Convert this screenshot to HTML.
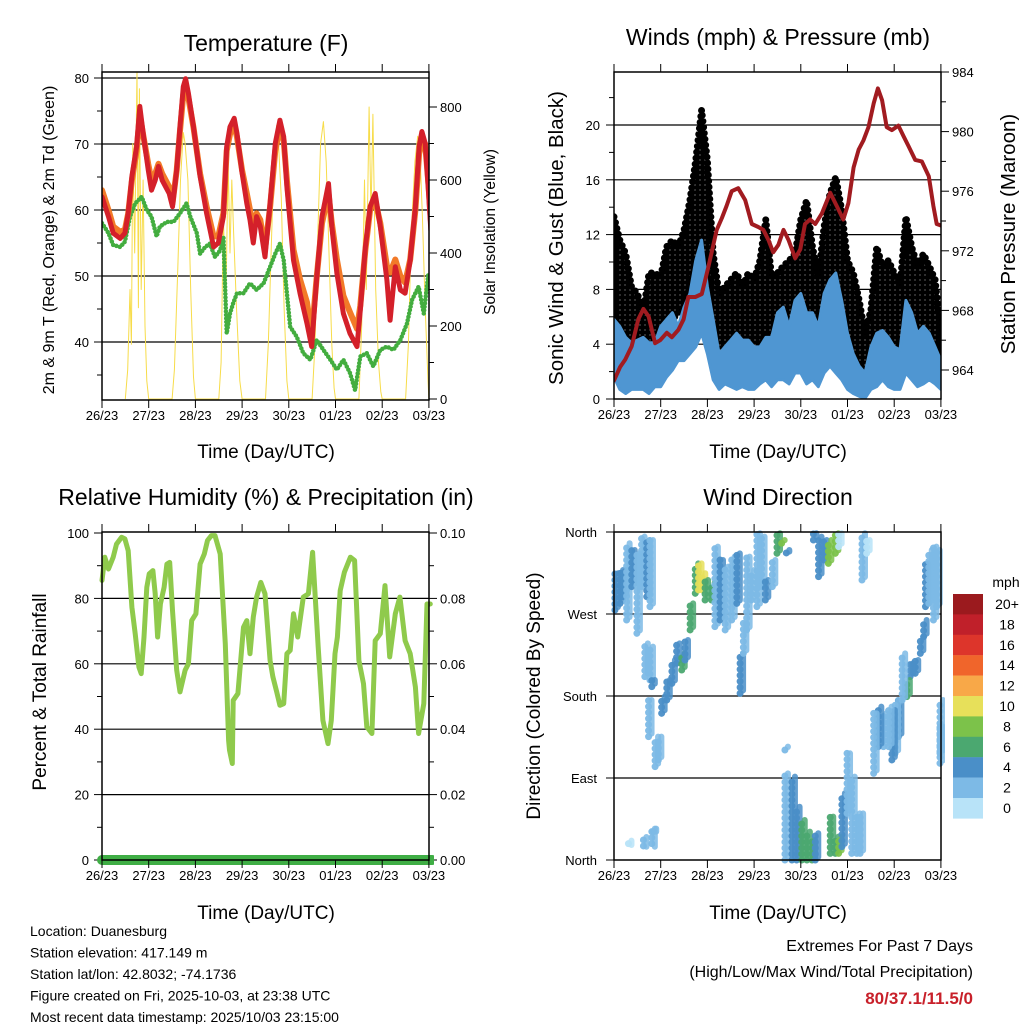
<!DOCTYPE html>
<html><head><meta charset="utf-8"><style>
html,body{margin:0;padding:0;background:#fff;}
svg{display:block;font-family:"Liberation Sans",Arial,sans-serif;}
</style></head><body>
<svg id="chart" width="1024" height="1024" viewBox="0 0 1024 1024" xmlns="http://www.w3.org/2000/svg">
<defs>
<clipPath id="c1"><rect x="102" y="72" width="327" height="328"/></clipPath>
<clipPath id="c2"><rect x="614" y="72" width="327" height="327"/></clipPath>
<clipPath id="c3"><rect x="97" y="532" width="337" height="334"/></clipPath>
<clipPath id="c4"><rect x="610" y="528" width="335" height="336"/></clipPath>
<pattern id="dotpat" width="5" height="5" patternUnits="userSpaceOnUse"><rect width="5" height="5" fill="#fff"/><circle cx="2.5" cy="2.5" r="3.1" fill="#000"/></pattern>
</defs>
<rect width="1024" height="1024" fill="#fff"/>
<g id="layer"></g>
</svg>
<script>
// ---------- Temperature panel data ----------
const tempTimes=[0.00,0.14,0.24,0.39,0.49,0.56,0.64,0.74,0.81,0.89,0.99,1.06,1.14,1.21,1.29,1.44,1.51,1.60,1.67,1.74,1.79,1.85,1.96,2.10,2.24,2.39,2.49,2.60,2.67,2.74,2.83,2.89,3.00,3.10,3.17,3.24,3.31,3.39,3.49,3.60,3.71,3.81,3.89,3.96,4.10,4.24,4.39,4.49,4.60,4.71,4.85,4.92,5.03,5.17,5.31,5.46,5.53,5.64,5.74,5.85,5.96,6.10,6.17,6.28,6.39,6.49,6.60,6.71,6.79,6.85,6.92,6.99,7.04];
const temp2m=[62.0,59.0,56.5,55.7,56.5,59.5,65.1,69.6,75.7,71.1,66.1,63.0,64.5,66.6,64.5,62.5,60.5,66.1,72.6,78.7,79.9,77.7,72.6,65.1,59.5,54.4,55.0,59.0,69.6,72.6,73.9,71.6,65.6,61.0,58.5,55.0,59.0,57.5,52.9,61.0,70.1,73.6,71.1,63.5,52.4,47.4,42.8,39.3,49.9,59.0,64.0,57.5,50.4,44.3,41.3,39.3,44.8,54.4,60.5,62.5,57.5,49.4,43.3,51.4,47.9,47.4,52.4,60.5,69.6,71.9,70.1,63.0,57.0];
const temp9m=[63.0,60.0,57.5,56.7,57.0,59.5,64.5,69.0,74.5,71.0,67.0,64.5,65.5,67.0,65.5,63.5,61.0,66.0,72.0,77.5,79.0,77.0,72.5,65.5,60.5,56.0,56.0,59.5,69.0,71.5,73.0,71.0,66.0,62.5,60.0,57.0,59.5,58.5,54.0,60.5,69.0,72.5,70.5,64.5,54.0,49.5,46.0,41.0,50.0,58.0,62.5,58.0,52.5,47.0,44.5,42.0,45.5,54.0,60.0,61.5,58.0,51.5,50.5,52.5,50.0,49.0,52.5,60.0,68.5,70.5,70.0,64.0,58.5];
const dewTimes=[0,0.14,0.24,0.39,0.49,0.6,0.71,0.85,0.96,1.06,1.17,1.24,1.39,1.53,1.67,1.81,1.89,2.03,2.1,2.21,2.31,2.42,2.53,2.6,2.67,2.74,2.81,2.89,3.03,3.17,3.31,3.46,3.6,3.71,3.81,3.89,3.96,4.03,4.17,4.31,4.46,4.6,4.74,4.89,5.03,5.17,5.31,5.42,5.53,5.67,5.81,5.96,6.1,6.24,6.39,6.53,6.64,6.78,6.89,6.99];
const dewValues=[58.0,56.5,54.7,54.4,55.2,59.0,61.0,62.0,60.0,59.0,56.0,57.5,58.2,58.2,59.5,61.0,59.0,56.5,53.4,54.4,54.9,52.9,53.9,56.0,41.3,44.3,45.9,47.4,47.4,48.9,47.9,48.9,51.4,53.4,54.9,52.4,47.4,42.3,40.8,38.3,37.3,40.3,38.8,37.3,35.8,37.3,35.3,32.7,37.8,38.3,36.3,38.8,39.3,38.8,40.3,42.8,46.4,48.4,44.3,50.4];
const solarTimes=[0.5,0.55,0.6,0.63,0.66,0.7,0.75,0.78,0.8,0.84,0.88,0.92,0.96,1.0,1.5,1.55,1.62,1.68,1.74,1.78,1.84,1.9,1.96,2.0,2.5,2.55,2.6,2.65,2.7,2.74,2.78,2.82,2.88,2.95,3.0,3.5,3.56,3.62,3.68,3.74,3.78,3.84,3.9,3.96,4.0,4.5,4.56,4.62,4.68,4.74,4.8,4.86,4.92,4.97,5.0,5.5,5.56,5.62,5.66,5.72,5.76,5.8,5.86,5.92,5.97,6.0,6.5,6.56,6.62,6.7,6.76,6.8,6.86,6.92,6.98,7.0];
const solarValues=[0,80,300,150,700,400,900,250,850,300,600,200,50,0,0,80,350,600,730,700,600,300,60,0,0,100,500,250,650,400,600,450,250,50,0,0,150,400,650,750,700,550,250,50,0,0,150,450,700,760,650,400,150,30,0,0,200,600,300,800,500,780,300,100,20,0,0,150,450,650,720,700,500,250,50,0];
const tempTicks=[40,50,60,70,80];
const solarTicks=[0,200,400,600,800];
const dayLabels=["26/23","27/23","28/23","29/23","30/23","01/23","02/23","03/23"];

// ---------- Wind panel data ----------
const gustHigh=[13.3,11.6,10.6,8.2,7.7,6.3,9.2,9.2,8.9,11.1,11.6,11.1,12.3,14.5,17.4,21.1,17.4,10.6,7.7,8.2,8.7,9.2,8.2,9.2,8.7,10.1,13.1,8.9,9.2,9.7,10.1,10.6,13.1,14.5,11.1,8.9,12.6,15.0,16.2,13.8,10.1,9.2,7.2,4.8,6.5,11.1,9.7,10.1,9.2,8.2,13.3,11.1,9.7,10.6,9.7,8.7,4.8];
const gustLow=[6.5,3.8,3.3,2.8,3.3,3.3,3.8,3.8,4.8,5.3,5.8,6.3,6.7,8.2,10.1,10.6,9.7,3.8,3.3,3.3,3.8,3.8,3.6,3.8,3.6,3.6,4.8,3.8,3.8,3.8,4.3,4.8,6.3,5.8,4.5,4.3,6.3,7.7,7.2,5.3,3.8,2.8,2.4,1.9,2.8,4.3,4.8,3.8,3.3,3.3,5.8,4.3,3.8,4.3,4.3,3.8,2.4];
const sonicHigh=[5.8,5.3,4.5,4.1,4.3,4.5,4.1,4.1,5.3,5.8,6.3,5.3,6.7,7.7,10.1,11.6,8.2,5.8,3.3,3.8,4.3,4.8,4.3,4.3,3.8,3.8,4.5,4.5,6.3,6.7,5.3,7.2,7.7,6.3,6.3,5.3,7.7,8.7,9.2,7.2,4.8,3.3,2.4,1.9,3.8,4.8,5.0,4.5,3.8,3.6,7.2,6.3,4.8,5.3,4.8,3.8,2.8];
const sonicLow=[1.6,0.7,0.4,0.7,0.7,0.7,0.4,0.9,0.9,1.6,2.1,2.8,2.8,3.3,3.8,4.8,3.3,1.4,0.7,1.1,0.9,0.7,0.9,0.7,0.7,1.1,1.4,0.9,1.4,1.4,1.1,1.9,1.9,1.1,1.4,0.9,1.9,2.4,1.9,1.4,0.7,0.4,0.2,0.05,0.7,0.9,1.4,0.9,0.7,0.7,1.9,1.4,0.9,1.1,1.4,1.1,0.7];
const pressTimes=[0,0.13,0.24,0.38,0.52,0.63,0.74,0.88,0.99,1.13,1.24,1.38,1.49,1.59,1.74,1.88,2.02,2.2,2.31,2.41,2.52,2.66,2.81,2.95,3.09,3.2,3.31,3.41,3.52,3.63,3.74,3.88,3.99,4.09,4.2,4.31,4.45,4.63,4.77,4.91,5.02,5.13,5.24,5.34,5.45,5.56,5.65,5.74,5.84,5.95,6.09,6.2,6.31,6.45,6.59,6.74,6.84,6.91,7.0];
const pressValues=[963.3,964.2,964.7,965.6,967.4,968.1,967.6,965.8,966.0,966.5,966.2,966.7,967.4,968.9,968.9,969.1,970.9,973.4,974.2,975.0,976.0,976.2,975.4,973.8,973.6,973.4,972.7,971.9,972.4,973.4,972.7,971.5,972.1,973.8,974.1,973.8,974.5,975.9,975.0,974.1,975.2,977.6,978.8,979.4,980.3,981.9,982.9,982.1,980.3,980.1,980.4,979.7,979.0,978.1,978.0,977.0,975.0,973.8,973.7];
const windTicks=[0,4,8,12,16,20];
const pressTicks=[964,968,972,976,980,984];

// ---------- RH panel data ----------
const rhTimes=[0,0.06,0.14,0.24,0.31,0.42,0.49,0.56,0.64,0.71,0.79,0.84,0.9,0.96,1.01,1.09,1.14,1.19,1.25,1.33,1.39,1.45,1.51,1.6,1.67,1.78,1.85,1.92,2.01,2.1,2.19,2.26,2.34,2.42,2.53,2.64,2.71,2.73,2.79,2.81,2.91,3.03,3.1,3.17,3.24,3.31,3.4,3.49,3.6,3.66,3.74,3.81,3.89,3.96,4.03,4.1,4.19,4.31,4.42,4.51,4.63,4.73,4.84,4.91,4.99,5.04,5.1,5.19,5.32,5.41,5.5,5.6,5.67,5.78,5.85,5.96,6.06,6.16,6.28,6.38,6.49,6.6,6.71,6.78,6.89,6.96,7.03];
const rhValues=[85.5,92.6,89.0,92.6,96.6,98.7,98.2,94.6,77.3,69.2,59.0,57.0,68.2,83.4,87.5,88.5,81.4,68.2,78.3,83.4,90.5,91.0,76.3,58.0,51.4,58.0,60.0,73.2,75.3,90.5,93.6,97.7,99.2,99.2,93.6,66.1,36.6,33.6,29.5,48.8,50.9,71.2,73.2,63.1,74.3,80.4,84.9,81.4,61.0,56.0,51.4,47.3,47.8,63.1,64.1,75.3,68.2,80.4,81.4,94.1,65.1,42.7,35.6,42.7,63.1,68.2,82.4,88.0,92.6,91.6,61.0,53.9,40.7,38.7,67.1,69.2,83.9,62.1,75.3,80.4,67.1,63.1,52.9,38.7,47.8,78.3,78.3];
const precipTimes=[0,7.07];
const precipValues=[0,0];
const rhTicks=[0,20,40,60,80,100];
const precipTickLabels=["0.00","0.02","0.04","0.06","0.08","0.10"];

// ---------- Wind direction data (time, dir from, dir to, speed mph) ----------
const dirTimes=[0.02,0.13,0.2,0.27,0.38,0.49,0.59,0.7,0.77,0.66,0.77,0.81,0.74,0.88,0.95,0.84,1.02,1.13,1.24,1.34,1.45,1.52,1.63,1.74,1.81,1.89,1.95,2.09,2.16,2.27,2.38,2.52,2.63,2.7,2.77,2.84,2.94,3.06,3.16,3.24,3.39,3.49,3.59,3.69,4.27,4.38,4.49,4.59,4.74,4.81,5.31,5.41,6.67,6.74,6.84,6.91,6.63,6.56,6.45,6.34,6.27,6.09,6.02,5.95,5.88,5.77,5.66,5.56,6.17,6.98,6.98,3.66,3.66,3.81,3.91,4.02,4.13,4.24,4.31,4.63,4.74,4.81,4.88,4.99,5.09,5.2,5.27,0.31,0.63,0.81];
const dirFrom=[274.4,281.7,289.0,263.4,300.0,248.8,300.0,289.0,278.1,201.2,197.6,190.3,135.4,102.5,109.8,31.1,161.0,175.6,193.9,215.9,208.5,219.5,252.5,292.7,296.4,296.4,285.4,285.4,256.1,263.4,252.5,263.4,281.7,182.9,226.8,252.5,285.4,278.1,300.0,285.4,300.0,336.6,347.6,337.0,351.2,311.0,329.3,325.6,336.6,343.9,307.3,336.6,278.1,281.7,263.4,278.1,245.1,226.8,204.9,201.2,179.3,135.4,117.1,109.8,124.4,124.4,124.4,95.1,175.6,117.1,106.1,120.7,0.0,0.0,0.0,0.0,0.0,0.0,0.0,7.3,7.3,7.3,14.6,51.2,7.3,7.3,7.3,18.0,22.0,31.1];
const dirTo=[314.7,318.3,318.3,347.6,340.3,336.6,355.0,351.2,351.2,237.8,234.2,197.6,175.6,135.4,135.4,31.1,179.3,197.6,219.5,237.8,226.8,241.5,281.7,325.6,325.6,314.7,307.3,303.7,343.9,329.3,322.0,333.0,336.6,226.8,259.8,333.0,318.3,358.6,354.9,307.3,329.3,358.6,351.2,338.4,358.6,354.9,351.2,351.2,358.6,358.6,358.6,351.2,325.6,340.3,343.9,340.3,263.4,245.1,219.5,215.9,197.6,175.6,175.6,164.6,168.3,161.0,168.3,161.0,226.8,175.6,146.3,124.4,95.1,91.5,58.5,43.9,31.1,22.0,29.3,47.6,25.6,25.6,73.2,117.1,91.5,51.2,51.2,16.5,14.6,14.6];
const dirSpeed=[4,4,4,2,4,2,2,4,2,2,2,4,2,2,2,2,4,4,4,4,6,4,6,6,10,10,6,6,2,4,2,2,4,4,2,2,2,2,2,4,2,6,8,4,4,4,4,8,8,0,1,0,4,2,2,2,4,4,4,4,6,4,2,4,2,2,4,2,2,2,2,2,2,4,4,6,6,6,4,6,6,8,4,2,2,2,2,0,2,2];
const dirTickLabels=["North","East","South","West","North"];
const dirTickValues=[0,90,180,270,360];
const cbLabels=["20+","18","16","14","12","10","8","6","4","2","0"];

// ---------- drawing ----------
const NS="http://www.w3.org/2000/svg";
const root=document.getElementById('layer');
function mk(tag,attrs,parent){const e=document.createElementNS(NS,tag);for(const k in attrs)e.setAttribute(k,attrs[k]);(parent||root).appendChild(e);return e;}
function txt(s,x,y,size,anchor,parent,extra){const e=mk('text',Object.assign({x:x,y:y,'font-size':size,'text-anchor':anchor||'middle',fill:'#000'},extra||{}),parent);e.textContent=s;return e;}
function poly(xs,ys){return xs.map((x,i)=>x.toFixed(1)+','+ys[i].toFixed(1)).join(' ');}
const DAY=46.7;
const xL=d=>102+d*DAY, xR=d=>614+d*DAY;
const yT=v=>78+(80-v)*6.6, yS=v=>399-v*0.365;
const yW=v=>399-v*13.7, yP=p=>72+(984-p)*14.9;
const yRH=v=>860-v*3.27, yD=v=>860-v*0.9111;

function frame(g,x0,x1,y0,y1,xf){
  mk('rect',{x:x0,y:y0,width:x1-x0,height:y1-y0,fill:'none',stroke:'#000','stroke-width':1.5},g);
  dayLabels.forEach((l,i)=>{const x=xf(i);
    mk('line',{x1:x,x2:x,y1:y1,y2:y1+8,stroke:'#000','stroke-width':1},g);
    mk('line',{x1:x,x2:x,y1:y0,y2:y0-8,stroke:'#000','stroke-width':1},g);
    const t=txt(l,x,y1+20,13,'middle',g);
    
    
  });
}
function grid(g,x0,x1,ys){ys.forEach(y=>mk('line',{x1:x0,x2:x1,y1:y,y2:y,stroke:'#000','stroke-width':1.2},g));}

// ===== Panel 1: Temperature =====
const p1=mk('g',{});


const t1=txt('Temperature (F)',266,51,23,'middle',p1);


grid(p1,102,429,tempTicks.map(yT));
tempTicks.forEach(v=>{const y=yT(v);mk('line',{x1:94,x2:102,y1:y,y2:y,stroke:'#000'},p1);
  const t=txt(String(v),89,y+5,13,'end',p1);
  
  });
[35,45,55,65,75].forEach(v=>mk('line',{x1:97,x2:102,y1:yT(v),y2:yT(v),stroke:'#000'},p1));
solarTicks.forEach(v=>{const y=yS(v);mk('line',{x1:429,x2:437,y1:y,y2:y,stroke:'#000'},p1);
  const t=txt(String(v),440,y+5,13,'start',p1);
  
  });
[100,300,500,700].forEach(v=>mk('line',{x1:429,x2:434,y1:yS(v),y2:yS(v),stroke:'#000'},p1));
const c1=mk('g',{'clip-path':'url(#c1)'},p1);
const sol=mk('polyline',{points:poly(solarTimes.map(xL),solarValues.map(yS)),fill:'none',stroke:'#f7dc4a','stroke-width':1,'stroke-linejoin':'round'},c1);


const dew=mk('polyline',{points:poly(dewTimes.map(xL),dewValues.map(yT)),fill:'none',stroke:'#43ad3f','stroke-width':4.5,'stroke-dasharray':'0 3.5','stroke-linecap':'round','stroke-linejoin':'round'},c1);


const n9=Math.min(tempTimes.length,temp9m.length);
const o9=mk('polyline',{points:poly(tempTimes.slice(0,n9).map(xL),temp9m.slice(0,n9).map(yT)),fill:'none',stroke:'#f27a28','stroke-width':6,'stroke-linejoin':'round','stroke-linecap':'round'},c1);


const r2=mk('polyline',{points:poly(tempTimes.map(xL),temp2m.map(yT)),fill:'none',stroke:'#d4202a','stroke-width':5,'stroke-linejoin':'round','stroke-linecap':'round'},c1);


frame(p1,102,429,72,400,xL);
const a1=txt('Time (Day/UTC)',266,458,19,'middle',p1);


const yl1=txt('2m & 9m T (Red, Orange) & 2m Td (Green)',0,0,16,'middle',p1,{transform:'translate(54,240) rotate(-90)'});


const yr1=txt('Solar Insolation (Yellow)',0,0,15.5,'middle',p1,{transform:'translate(495,232) rotate(-90)'});



// ===== Panel 2: Winds =====
const p2=mk('g',{});


const t2=txt('Winds (mph) & Pressure (mb)',778,45,23,'middle',p2);


grid(p2,614,941,windTicks.slice(1).map(yW));
windTicks.forEach(v=>{const y=yW(v);mk('line',{x1:606,x2:614,y1:y,y2:y,stroke:'#000'},p2);
  const t=txt(String(v),600,y+5,13,'end',p2);
  
  });
[2,6,10,14,18,22].forEach(v=>mk('line',{x1:609,x2:614,y1:yW(v),y2:yW(v),stroke:'#000'},p2));
pressTicks.forEach(v=>{const y=yP(v);mk('line',{x1:941,x2:949,y1:y,y2:y,stroke:'#000'},p2);
  const t=txt(String(v),952,y+5,13,'start',p2);
  
  });
[966,970,974,978,982].forEach(v=>mk('line',{x1:941,x2:946,y1:yP(v),y2:yP(v),stroke:'#000'},p2));
const c2=mk('g',{'clip-path':'url(#c2)'},p2);
const nw=Math.min(gustHigh.length,gustLow.length,sonicHigh.length,sonicLow.length);
const wt=[];for(let i=0;i<nw;i++)wt.push(i*7/(nw-1));
const gx=wt.map(xR);
const gust=mk('polygon',{points:poly(gx.concat(gx.slice().reverse()),gustHigh.slice(0,nw).map(yW).concat(gustLow.slice(0,nw).map(yW).reverse())),fill:'url(#dotpat)',stroke:'#000','stroke-width':7,'stroke-dasharray':'0 6','stroke-linecap':'round','stroke-linejoin':'round'},c2);


const sonic=mk('polygon',{points:poly(gx.concat(gx.slice().reverse()),sonicHigh.slice(0,nw).map(yW).concat(sonicLow.slice(0,nw).map(yW).reverse())),fill:'#4f96d2',stroke:'#4f96d2','stroke-width':3,'stroke-linejoin':'round'},c2);


const pr=mk('polyline',{points:poly(pressTimes.map(xR),pressValues.map(yP)),fill:'none',stroke:'#a11b20','stroke-width':4,'stroke-linejoin':'round','stroke-linecap':'round'},c2);


frame(p2,614,941,72,399,xR);
const a2=txt('Time (Day/UTC)',778,458,19,'middle',p2);


const yl2=txt('Sonic Wind & Gust (Blue, Black)',0,0,20.5,'middle',p2,{transform:'translate(563,238) rotate(-90)'});


const yr2=txt('Station Pressure (Maroon)',0,0,20.5,'middle',p2,{transform:'translate(1015,234) rotate(-90)'});



// ===== Panel 3: RH =====
const p3=mk('g',{});


const t3=txt('Relative Humidity (%) & Precipitation (in)',266,505,23,'middle',p3);


grid(p3,102,429,[20,40,60,80].map(yRH));
rhTicks.forEach((v,i)=>{const y=yRH(v);mk('line',{x1:94,x2:102,y1:y,y2:y,stroke:'#000'},p3);
  mk('line',{x1:429,x2:437,y1:y,y2:y,stroke:'#000'},p3);
  const t=txt(String(v),89,y+5,13,'end',p3);
  
  
  const t2=txt(precipTickLabels[i],440,y+5,13,'start',p3);
  
  });
[10,30,50,70,90].forEach(v=>{mk('line',{x1:97,x2:102,y1:yRH(v),y2:yRH(v),stroke:'#000'},p3);mk('line',{x1:429,x2:434,y1:yRH(v),y2:yRH(v),stroke:'#000'},p3);});
const c3=mk('g',{'clip-path':'url(#c3)'},p3);
const rh=mk('polyline',{points:poly(rhTimes.map(xL),rhValues.map(yRH)),fill:'none',stroke:'#8fca4c','stroke-width':5,'stroke-linejoin':'round','stroke-linecap':'round'},c3);


const pc=mk('polyline',{points:poly(precipTimes.map(xL),precipValues.map(v=>yRH(v*1000))),fill:'none',stroke:'#3fae45','stroke-width':10,'stroke-linecap':'round'},c3);


frame(p3,102,429,532,860,xL);
const a3=txt('Time (Day/UTC)',266,919,19,'middle',p3);


const yl3=txt('Percent & Total Rainfall',0,0,19,'middle',p3,{transform:'translate(46,692) rotate(-90)'});



// ===== Panel 4: Wind direction =====
const p4=mk('g',{});


const t4=txt('Wind Direction',778,505,23,'middle',p4);


grid(p4,614,941,[90,180,270].map(yD));
dirTickValues.forEach((v,i)=>{const y=yD(v);mk('line',{x1:606,x2:614,y1:y,y2:y,stroke:'#000'},p4);
  const t=txt(dirTickLabels[i],597,y+5,13,'end',p4);
  
  });
const cbColors=['#9b1a1e','#c0202a','#dd352b','#f0652b','#f8a848','#e7e05a','#7cc24a','#4ba870','#4a8fc8','#7dbae6','#b8e3f8'];
function spdColor(s){if(s<1)return '#b8e3f8';if(s<3)return '#7dbae6';if(s<5)return '#4a8fc8';if(s<7)return '#4ba870';if(s<9)return '#7cc24a';if(s<11)return '#e7e05a';if(s<13)return '#f8a848';if(s<15)return '#f0652b';if(s<17)return '#dd352b';if(s<19)return '#c0202a';return '#9b1a1e';}
const c4=mk('g',{'clip-path':'url(#c4)'},p4);
for(let i=0;i<Math.min(dirTimes.length,dirFrom.length,dirTo.length,dirSpeed.length);i++){
  const x=xR(dirTimes[i]);
  const seg=mk('line',{x1:x,x2:x,y1:yD(dirFrom[i]),y2:yD(dirTo[i]),stroke:spdColor(dirSpeed[i]),'stroke-width':7,'stroke-linecap':'round','stroke-dasharray':'0 6',opacity:0.95},c4);
  
  
  const seg2=mk('line',{x1:x+3,x2:x+3,y1:yD(dirFrom[i])-3,y2:yD(dirTo[i]),stroke:spdColor(dirSpeed[i]),'stroke-width':6,'stroke-linecap':'round',opacity:0.85},c4);
  
  
}
frame(p4,614,941,532,860,xR);
const a4=txt('Time (Day/UTC)',778,919,19,'middle',p4);


const yl4=txt('Direction (Colored By Speed)',0,0,19,'middle',p4,{transform:'translate(540,696) rotate(-90)'});



// colorbar
const cb=mk('g',{},p4);


const cu=txt('mph',1006,587,14,'middle',cb);


cbLabels.forEach((l,i)=>{const y=594+i*20.4;
  const r=mk('rect',{x:953,y:y,width:30,height:20.6,fill:cbColors[i]},cb);
  
  
  const t=txt(l,1007,y+15,14,'middle',cb);
  
  });

// ===== Footer text =====
const info=["Location: Duanesburg","Station elevation: 417.149 m","Station lat/lon: 42.8032; -74.1736","Figure created on Fri, 2025-10-03, at 23:38 UTC","Most recent data timestamp: 2025/10/03 23:15:00"];
info.forEach((s,i)=>{const t=txt(s,30,936+i*21.5,14,'start');
  
  });
const e1=txt('Extremes For Past 7 Days',973,951,16,'end');


const e2=txt('(High/Low/Max Wind/Total Precipitation)',973,977,16,'end');


const e3=txt('80/37.1/11.5/0',973,1004,17,'end',null,{'font-weight':'bold',fill:'#c8202a'});


</script>
</body></html>
